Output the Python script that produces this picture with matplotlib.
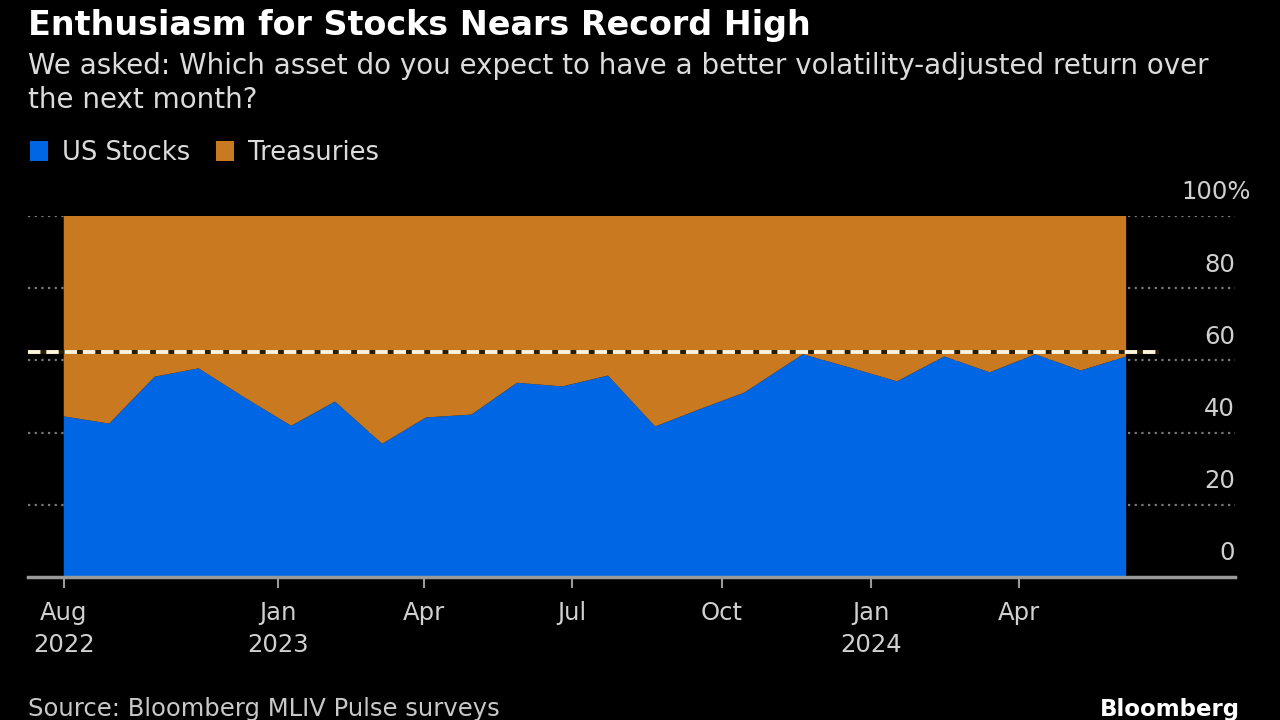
import matplotlib
matplotlib.use("Agg")
import matplotlib.pyplot as plt
import matplotlib.transforms as mtransforms
from matplotlib.patches import Patch
import pandas as pd

# ---- data ----
dates = ["2022-08-22", "2022-09-19", "2022-10-17", "2022-11-13", "2022-12-11",
         "2023-01-09", "2023-02-05", "2023-03-06", "2023-04-02", "2023-04-30",
         "2023-05-28", "2023-06-25", "2023-07-23", "2023-08-21", "2023-09-17",
         "2023-10-15", "2023-11-20", "2023-12-19", "2024-01-17", "2024-02-15",
         "2024-03-14", "2024-04-11", "2024-05-09", "2024-06-06"]
us_stocks = [44.5, 42.5, 55.5, 57.8, 49.8, 41.9, 48.6, 36.9, 44.2, 45.0,
             53.8, 52.8, 55.8, 41.7, 46.4, 51.1, 61.7, 58.0, 54.2, 61.1,
             56.7, 61.7, 57.2, 61.1]
treasuries = [55.5, 57.5, 44.5, 42.2, 50.2, 58.1, 51.4, 63.1, 55.8, 55.0,
              46.2, 47.2, 44.2, 58.3, 53.6, 48.9, 38.3, 42.0, 45.8, 38.9,
              43.3, 38.3, 42.8, 38.9]
record_high = 62.2
tick_dates = ["2022-08-22", "2023-01-01", "2023-04-01", "2023-07-01",
              "2023-10-01", "2024-01-01", "2024-04-01"]
tick_labels = ["Aug\n2022", "Jan\n2023", "Apr", "Jul", "Oct", "Jan\n2024", "Apr"]
y_ticks = [0, 20, 40, 60, 80, 100]
y_labels = ["0", "20", "40", "60", "80", "100%"]
series_names = ["US Stocks", "Treasuries"]

BLUE = "#0066E3"
ORANGE = "#C97A20"
BG = "#000000"
GRID = "#7a7a7a"
TXT = "#d0d0d0"

x = pd.to_datetime(dates)
plt.rcParams["font.family"] = ["DejaVu Sans"]

fig = plt.figure(figsize=(12.8, 7.2), dpi=100, facecolor=BG)
ax = fig.add_axes([28 / 1280, 1 - 577 / 720, (1235 - 28) / 1280, (577 - 216) / 720])
ax.set_facecolor(BG)

ax.stackplot(x, us_stocks, treasuries, colors=[BLUE, ORANGE], zorder=2, linewidth=0)

ax.set_xlim(pd.Timestamp("2022-07-31"), pd.Timestamp("2024-08-12"))
ax.set_ylim(0, 100)

# gridlines
for v in y_ticks[1:]:
    ax.axhline(v, color=GRID, lw=1.6, ls=(0, (1, 2)), zorder=1)

# record-high dashed line
x_dash = [pd.Timestamp("2022-07-31"), pd.Timestamp("2024-06-26")]
ax.plot(x_dash, [record_high, record_high], color="#2a1a08", lw=2.8, zorder=3,
        solid_capstyle="butt")
ax.plot(x_dash, [record_high, record_high], color="#fff4dc", lw=2.8, zorder=4,
        dashes=(3.2, 1.5))

# spines & ticks
for s in ["top", "right", "left"]:
    ax.spines[s].set_visible(False)
ax.spines["bottom"].set_color("#9a9a9a")
ax.spines["bottom"].set_linewidth(2.5)
ax.spines["bottom"].set_zorder(5)
ax.set_yticks([])
ax.set_xticks(pd.to_datetime(tick_dates))
ax.set_xticklabels(tick_labels, fontsize=17.5, color=TXT, linespacing=1.45)
ax.tick_params(axis="x", colors="#9a9a9a", length=8, width=1.5, pad=9, labelcolor=TXT)

# right side y labels above gridlines
trans = mtransforms.blended_transform_factory(ax.transAxes, ax.transData)
for v, lab in zip(y_ticks, y_labels):
    dx = 11.5 if lab.endswith("%") else 0
    ax.annotate(lab, xy=(1.0, v), xycoords=trans, xytext=(dx, 12),
                textcoords="offset points", ha="right", va="baseline",
                fontsize=17.5, color=TXT, annotation_clip=False)

# titles
fig.text(28 / 1280, 1 - 35 / 720, "Enthusiasm for Stocks Nears Record High",
         fontsize=24, fontweight="bold", color="white", va="baseline", ha="left")
fig.text(28 / 1280, 1 - 74 / 720,
         "We asked: Which asset do you expect to have a better volatility-adjusted return over",
         fontsize=20, color="#dcdcdc", va="baseline", ha="left")
fig.text(28 / 1280, 1 - 108 / 720, "the next month?",
         fontsize=20, color="#dcdcdc", va="baseline", ha="left")

# legend
handles = [Patch(facecolor=BLUE, edgecolor="none"), Patch(facecolor=ORANGE, edgecolor="none")]
fig.legend(handles, series_names, loc="center left",
           bbox_to_anchor=(30 / 1280, 1 - 153 / 720), ncol=2, frameon=False,
           fontsize=18.5, labelcolor="#dcdcdc", handlelength=0.7, handleheight=0.8,
           handletextpad=0.55, columnspacing=1.0, borderaxespad=0, borderpad=0)

# footer
fig.text(28 / 1280, 1 - 716 / 720, "Source: Bloomberg MLIV Pulse surveys",
         fontsize=17.5, color="#c8c8c8", va="baseline", ha="left")
fig.text(1240 / 1280, 1 - 716 / 720, "Bloomberg",
         fontsize=16.5, fontweight="bold", color="white", va="baseline", ha="right")

fig.savefig("out.png", dpi=100, facecolor=BG)
